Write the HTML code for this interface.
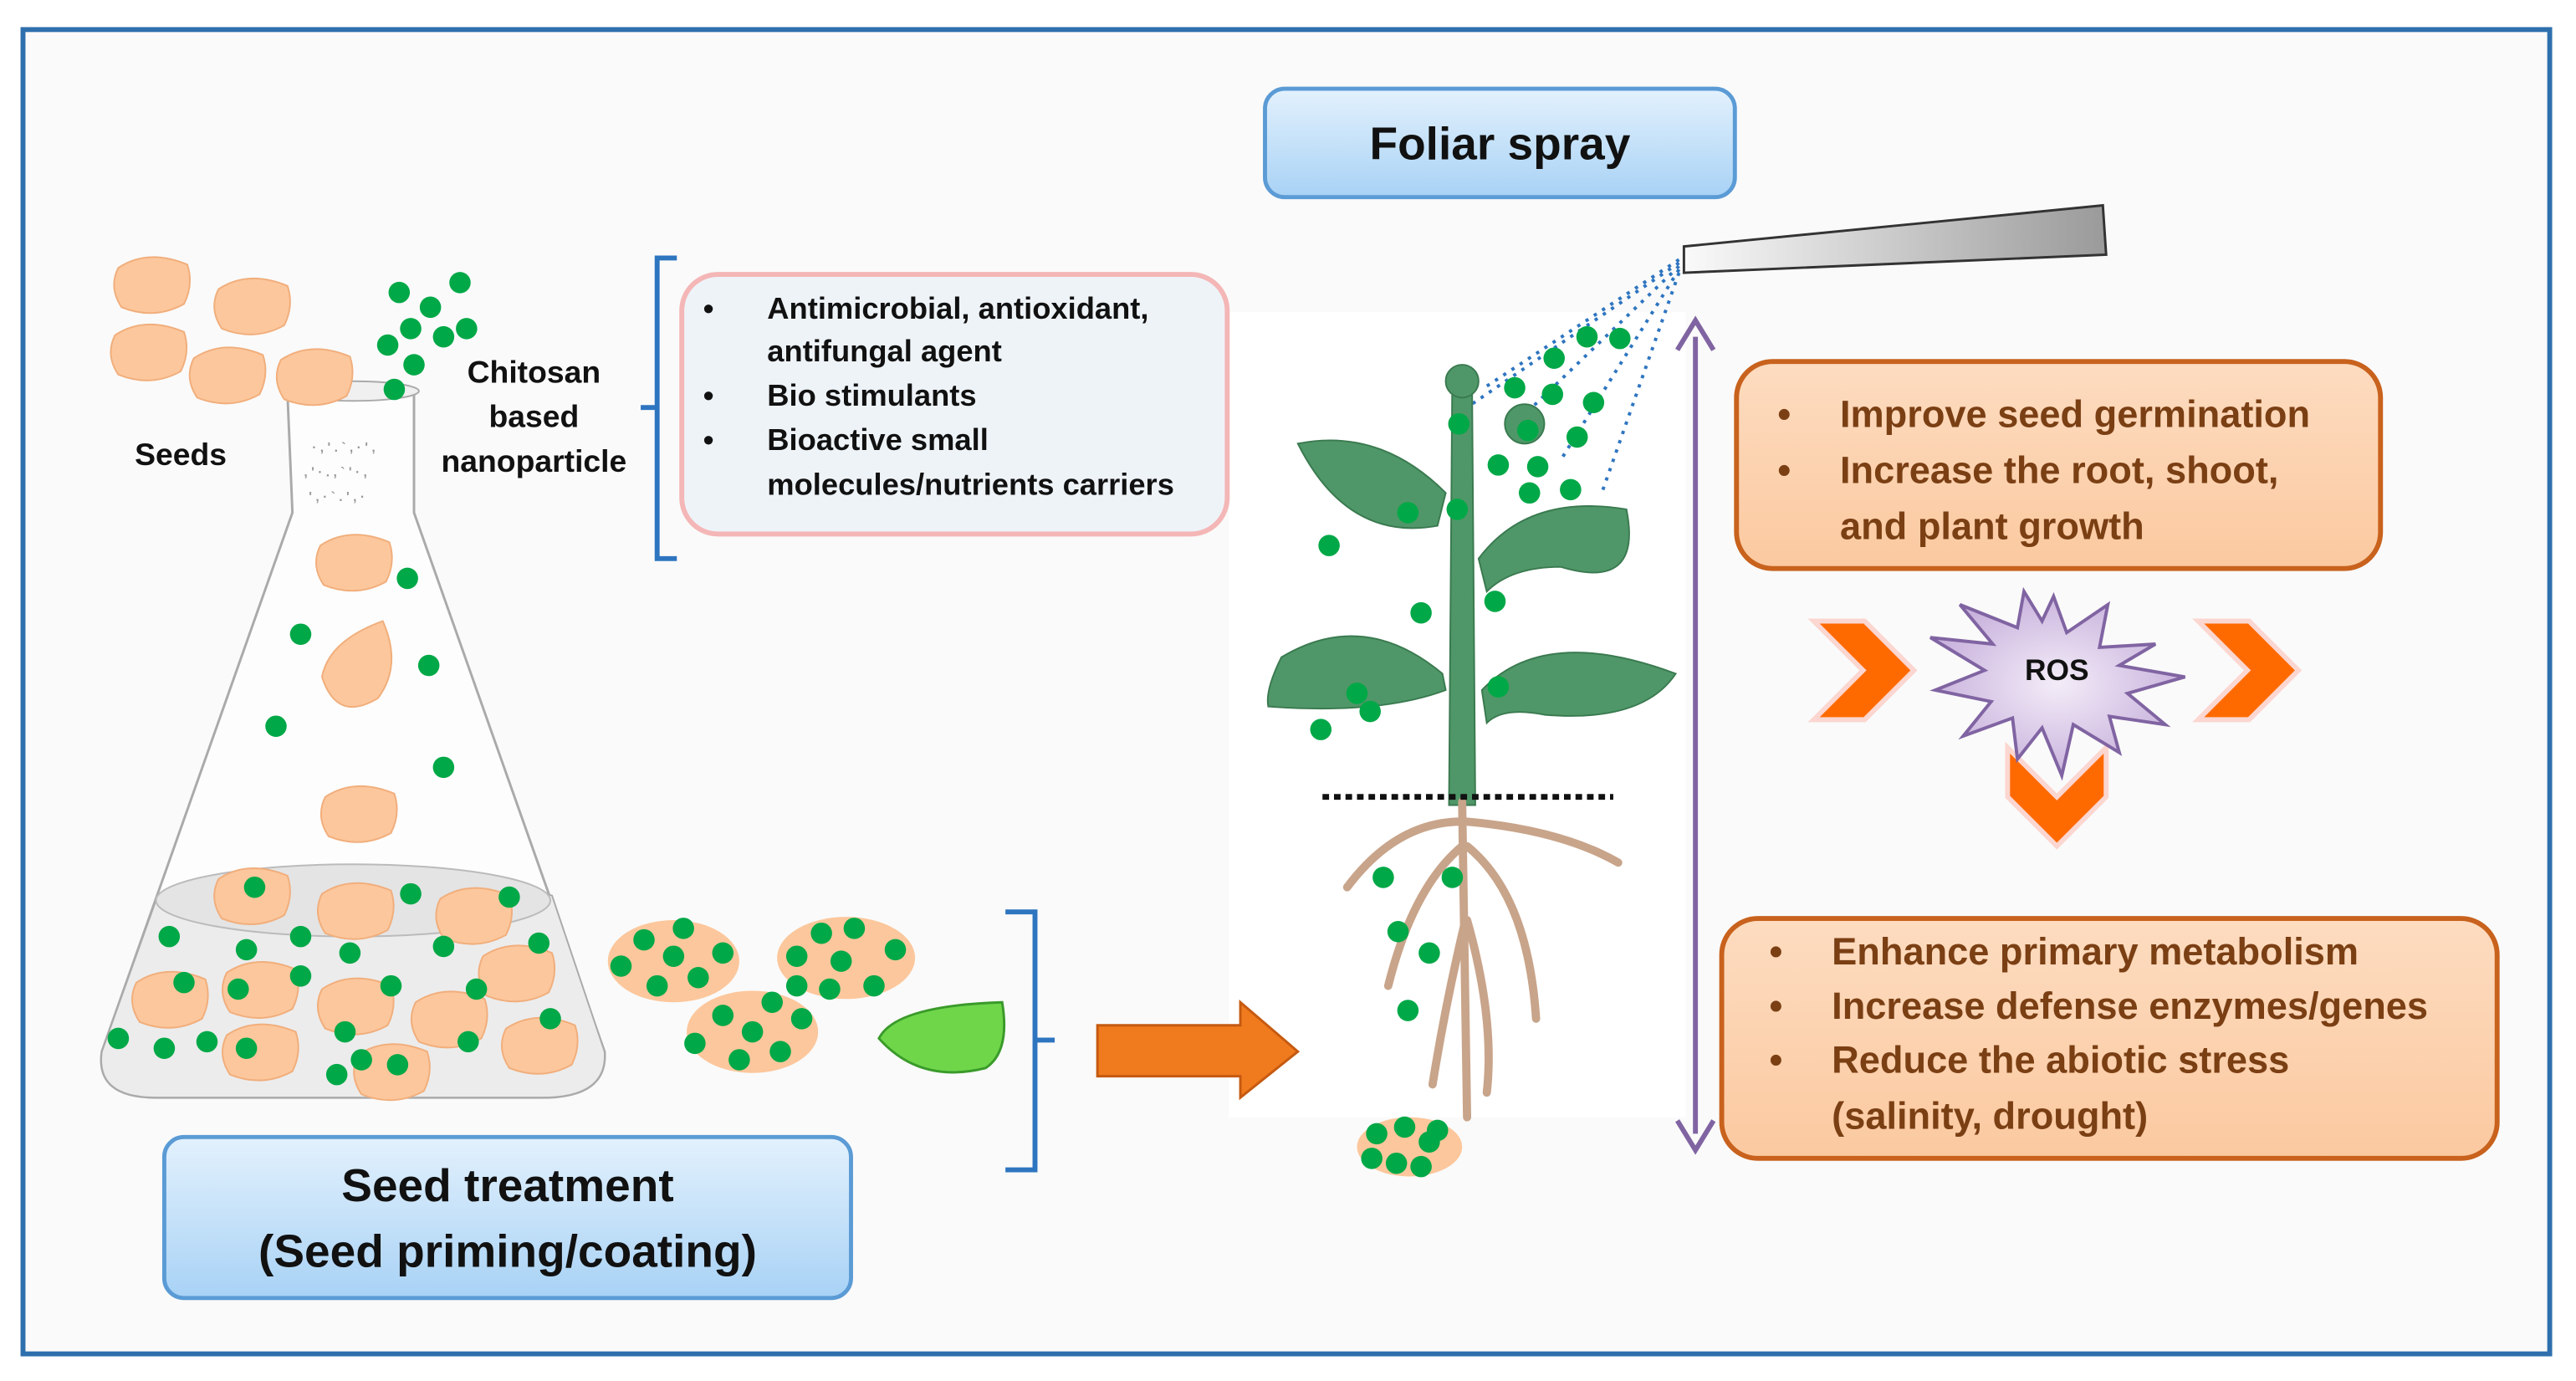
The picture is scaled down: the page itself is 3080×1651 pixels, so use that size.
<!DOCTYPE html>
<html><head><meta charset="utf-8"><style>
html,body{margin:0;padding:0;background:#fff;}
svg{display:block;}
text{font-family:"Liberation Sans",sans-serif;font-weight:bold;}
</style></head><body>
<svg width="3080" height="1651" viewBox="0 0 1568 840.5" preserveAspectRatio="none" xmlns="http://www.w3.org/2000/svg">
<defs>
<linearGradient id="bl" x1="0" y1="0" x2="0" y2="1"><stop offset="0" stop-color="#e3f1fd"/><stop offset="1" stop-color="#a8d2f5"/></linearGradient>
<linearGradient id="or" x1="0" y1="0" x2="0" y2="1"><stop offset="0" stop-color="#fddcc0"/><stop offset="1" stop-color="#fbc9a0"/></linearGradient>
<linearGradient id="sp" x1="0" y1="0" x2="1" y2="0"><stop offset="0" stop-color="#fafafa"/><stop offset="1" stop-color="#9a9a9a"/></linearGradient>
<radialGradient id="ros"><stop offset="0" stop-color="#f3ecf8"/><stop offset="1" stop-color="#c9b3dd"/></radialGradient>
<g id="d"><circle r="6.5" fill="#00a847"/></g>
<g id="s"><path d="M-22,-10 Q-4,-22 20,-12 Q24,0 18,12 Q0,22 -20,14 Q-28,2 -22,-10Z" fill="#fcc79c" stroke="#f1ae7c" stroke-width="1"/></g>
</defs>
<rect x="14" y="18" width="1538" height="806" fill="#fafafa" stroke="#2e6fad" stroke-width="3"/>
<!-- plant background -->
<rect x="748" y="190" width="278" height="490" fill="#fff"/>
<!-- Foliar spray -->
<rect x="770" y="54" width="286" height="66" rx="12" fill="url(#bl)" stroke="#5b9bd5" stroke-width="2.5"/>
<text x="913" y="97" font-size="28" text-anchor="middle" fill="#111">Foliar spray</text>
<!-- Seed treatment -->
<rect x="100" y="692" width="418" height="98" rx="12" fill="url(#bl)" stroke="#5b9bd5" stroke-width="2.5"/>
<text x="309" y="731" font-size="28" text-anchor="middle" fill="#111">Seed treatment</text>
<text x="309" y="771" font-size="28" text-anchor="middle" fill="#111">(Seed priming/coating)</text>
<!-- pink box -->
<rect x="415" y="167" width="332" height="158" rx="22" fill="#eef3f8" stroke="#f4b6b6" stroke-width="3"/>
<g font-size="18.5" fill="#111">
<text x="428" y="194">•</text><text x="467" y="194">Antimicrobial, antioxidant,</text>
<text x="467" y="220">antifungal agent</text>
<text x="428" y="247">•</text><text x="467" y="247">Bio stimulants</text>
<text x="428" y="274">•</text><text x="467" y="274">Bioactive small</text>
<text x="467" y="301">molecules/nutrients carriers</text>
</g>
<path d="M412,157 L400,157 L400,340 L412,340 M400,248 L390,248" fill="none" stroke="#2e75c0" stroke-width="3"/>
<!-- labels -->
<text x="110" y="283" font-size="19" text-anchor="middle" fill="#111">Seeds</text>
<g font-size="19" text-anchor="middle" fill="#111"><text x="325" y="233">Chitosan</text><text x="325" y="260">based</text><text x="325" y="287">nanoparticle</text></g>
<!-- flask -->
<path d="M175,240 L252,240 L252,312 L368,640 Q370,668 330,668 L95,668 Q58,668 62,640 L178,312Z" fill="#fdfdfd" stroke="#aaa" stroke-width="1.5"/>
<ellipse cx="215" cy="238" rx="40" ry="6" fill="#f0f0f0" stroke="#aaa"/>
<path d="M96,545 Q215,515 336,545 L368,640 Q370,668 330,668 L95,668 Q58,668 62,640Z" fill="#ececec" stroke="#aaa"/>
<ellipse cx="215" cy="548" rx="120" ry="22" fill="#e4e4e4" stroke="#bbb"/>
<g fill="#999"><text x="190" y="275" font-size="8">· , ' . ` , · ' ,</text><text x="185" y="290" font-size="8">, ' · . , ` ' · ,</text><text x="188" y="305" font-size="8">' , · ` . ' , ·</text></g>
<!-- seeds -->
<use href="#s" x="94" y="173"/><use href="#s" x="155" y="186"/><use href="#s" x="92" y="214"/><use href="#s" x="140" y="228"/><use href="#s" x="193" y="229"/>
<use href="#s" x="217" y="342"/><use href="#s" x="220" y="495"/>
<path d="M196,412 Q200,390 233,378 Q245,405 230,425 Q205,440 196,412Z" fill="#fcc79c" stroke="#f1ae7c"/>
<use href="#s" x="155" y="545"/><use href="#s" x="218" y="554"/><use href="#s" x="290" y="557"/>
<use href="#s" x="105" y="608"/><use href="#s" x="160" y="602"/><use href="#s" x="218" y="612"/><use href="#s" x="275" y="620"/><use href="#s" x="316" y="592"/>
<use href="#s" x="160" y="640"/><use href="#s" x="240" y="652"/><use href="#s" x="330" y="636"/>
<ellipse cx="410" cy="585" rx="40" ry="25" fill="#fcc79c"/><ellipse cx="515" cy="583" rx="42" ry="25" fill="#fcc79c"/><ellipse cx="458" cy="628" rx="40" ry="25" fill="#fcc79c"/>
<path d="M535,632 Q545,612 610,610 Q615,640 600,650 Q560,660 535,632Z" fill="#6fd64a" stroke="#3a9a2a" stroke-width="1.5"/>
<ellipse cx="858" cy="698" rx="32" ry="18" fill="#fcc79c"/>
<!-- green dots -->
<g>
<use href="#d" x="243" y="178"/><use href="#d" x="262" y="187"/><use href="#d" x="280" y="172"/><use href="#d" x="250" y="200"/><use href="#d" x="270" y="205"/><use href="#d" x="236" y="210"/><use href="#d" x="284" y="200"/><use href="#d" x="252" y="222"/><use href="#d" x="240" y="237"/>
<use href="#d" x="248" y="352"/><use href="#d" x="183" y="386"/><use href="#d" x="261" y="405"/><use href="#d" x="168" y="442"/><use href="#d" x="270" y="467"/>
<use href="#d" x="155" y="540"/><use href="#d" x="250" y="544"/><use href="#d" x="310" y="546"/><use href="#d" x="103" y="570"/><use href="#d" x="150" y="578"/><use href="#d" x="183" y="570"/><use href="#d" x="213" y="580"/><use href="#d" x="270" y="576"/><use href="#d" x="328" y="574"/>
<use href="#d" x="112" y="598"/><use href="#d" x="145" y="602"/><use href="#d" x="183" y="594"/><use href="#d" x="238" y="600"/><use href="#d" x="290" y="602"/><use href="#d" x="72" y="632"/><use href="#d" x="100" y="638"/><use href="#d" x="126" y="634"/><use href="#d" x="150" y="638"/><use href="#d" x="210" y="628"/><use href="#d" x="220" y="645"/><use href="#d" x="242" y="648"/><use href="#d" x="285" y="634"/><use href="#d" x="335" y="620"/><use href="#d" x="205" y="654"/>
<use href="#d" x="378" y="588"/><use href="#d" x="392" y="572"/><use href="#d" x="410" y="582"/><use href="#d" x="400" y="600"/><use href="#d" x="425" y="595"/><use href="#d" x="440" y="580"/><use href="#d" x="416" y="565"/>
<use href="#d" x="485" y="582"/><use href="#d" x="500" y="568"/><use href="#d" x="520" y="565"/><use href="#d" x="512" y="585"/><use href="#d" x="532" y="600"/><use href="#d" x="545" y="578"/><use href="#d" x="505" y="602"/><use href="#d" x="485" y="600"/>
<use href="#d" x="423" y="635"/><use href="#d" x="440" y="618"/><use href="#d" x="458" y="628"/><use href="#d" x="475" y="640"/><use href="#d" x="450" y="645"/><use href="#d" x="488" y="620"/><use href="#d" x="470" y="610"/>
<use href="#d" x="838" y="690"/><use href="#d" x="855" y="686"/><use href="#d" x="870" y="695"/><use href="#d" x="850" y="708"/><use href="#d" x="835" y="705"/><use href="#d" x="875" y="688"/><use href="#d" x="865" y="710"/>
</g>
<!-- bracket right -->
<path d="M612,555 L630,555 L630,712 L612,712 M630,633 L642,633" fill="none" stroke="#2e75c0" stroke-width="3"/>
<!-- orange arrow -->
<path d="M668,624 L755,624 L755,610 L790,640 L755,668 L755,655 L668,655Z" fill="#f07a1e" stroke="#c55a11" stroke-width="1.5"/>
<!-- sprayer -->
<polygon points="1025,150 1280,125 1282,155 1025,166" fill="url(#sp)" stroke="#333" stroke-width="1.5"/>
<g stroke="#2e75c0" stroke-width="2" stroke-dasharray="2,4" fill="none">
<path d="M1022,160 L890,250"/><path d="M1022,162 L920,260"/><path d="M1022,164 L950,280"/><path d="M1022,166 L975,300"/><path d="M1022,158 L905,235"/>
</g>
<!-- plant -->
<g fill="#4f9768" stroke="#3a7a50" stroke-width="1">
<path d="M884,230 L896,230 L898,490 L882,490Z"/>
<path d="M880,300 Q840,260 790,270 Q820,330 875,320Z"/>
<path d="M900,340 Q930,300 990,310 Q1000,360 950,345 Q920,345 905,360Z"/>
<path d="M878,410 Q830,370 780,400 Q770,420 772,430 Q840,435 880,420Z"/>
<path d="M902,420 Q940,380 1020,410 Q1000,440 940,435 Q915,430 905,440Z"/>
<circle cx="890" cy="232" r="10"/>
<circle cx="928" cy="258" r="12"/>
</g>
<g fill="none" stroke="#c8a48a" stroke-width="5" stroke-linecap="round">
<path d="M890,488 L893,680"/><path d="M890,500 Q850,500 820,540"/><path d="M892,500 Q950,505 985,525"/><path d="M890,515 Q860,540 845,600"/><path d="M893,515 Q930,545 935,620"/><path d="M892,560 Q880,610 872,660"/><path d="M893,560 Q910,620 905,665"/>
</g>
<line x1="805" y1="485" x2="982" y2="485" stroke="#111" stroke-width="3.5" stroke-dasharray="4,3"/>
<g>
<use href="#d" x="966" y="205"/><use href="#d" x="986" y="206"/><use href="#d" x="946" y="218"/><use href="#d" x="922" y="236"/><use href="#d" x="945" y="240"/><use href="#d" x="970" y="245"/><use href="#d" x="888" y="258"/><use href="#d" x="930" y="262"/><use href="#d" x="960" y="266"/><use href="#d" x="912" y="283"/><use href="#d" x="936" y="284"/><use href="#d" x="931" y="300"/><use href="#d" x="956" y="298"/><use href="#d" x="857" y="312"/><use href="#d" x="887" y="310"/><use href="#d" x="809" y="332"/><use href="#d" x="865" y="373"/><use href="#d" x="910" y="366"/><use href="#d" x="826" y="422"/><use href="#d" x="834" y="433"/><use href="#d" x="912" y="418"/><use href="#d" x="804" y="444"/>
<use href="#d" x="842" y="534"/><use href="#d" x="884" y="534"/><use href="#d" x="851" y="567"/><use href="#d" x="870" y="580"/><use href="#d" x="857" y="615"/>
</g>
<!-- purple arrow -->
<line x1="1032" y1="205" x2="1032" y2="690" stroke="#8064a2" stroke-width="3"/>
<path d="M1021,213 L1032,195 L1043,213" fill="none" stroke="#8064a2" stroke-width="3"/>
<path d="M1021,682 L1032,700 L1043,682" fill="none" stroke="#8064a2" stroke-width="3"/>
<!-- orange box 1 -->
<rect x="1057" y="220" width="392" height="126" rx="22" fill="url(#or)" stroke="#c8621d" stroke-width="3"/>
<g font-size="23" fill="#7b3f14">
<text x="1082" y="260">•</text><text x="1120" y="260">Improve seed germination</text>
<text x="1082" y="294">•</text><text x="1120" y="294">Increase the root, shoot,</text>
<text x="1120" y="328">and plant growth</text>
</g>
<!-- orange box 2 -->
<rect x="1048" y="559" width="472" height="146" rx="22" fill="url(#or)" stroke="#c8621d" stroke-width="3"/>
<g font-size="23" fill="#7b3f14">
<text x="1077" y="587">•</text><text x="1115" y="587">Enhance primary metabolism</text>
<text x="1077" y="620">•</text><text x="1115" y="620">Increase defense enzymes/genes</text>
<text x="1077" y="653">•</text><text x="1115" y="653">Reduce the abiotic stress</text>
<text x="1115" y="687">(salinity, drought)</text>
</g>
<!-- chevrons -->
<g fill="#ff6a00" stroke="#fcd6d0" stroke-width="3">
<polygon points="1104,378 1135,378 1165,408 1135,438 1104,438 1134,408"/>
<polygon points="1338,378 1369,378 1399,408 1369,438 1338,438 1368,408"/>
<polygon points="1222,455 1222,485 1252,515 1282,485 1282,455 1252,485"/>
</g>
<!-- ROS star -->
<polygon points="1250,363 1258,385 1283,368 1278,394 1312,392 1290,405 1330,412 1295,422 1318,441 1284,436 1290,458 1262,441 1255,472 1243,443 1228,462 1225,437 1195,448 1212,427 1178,420 1208,408 1175,388 1213,392 1193,368 1228,382 1232,360 1243,378" fill="url(#ros)" stroke="#8064a2" stroke-width="2"/>
<text x="1252" y="414" font-size="18" text-anchor="middle" fill="#111">ROS</text>
</svg>
</body></html>
